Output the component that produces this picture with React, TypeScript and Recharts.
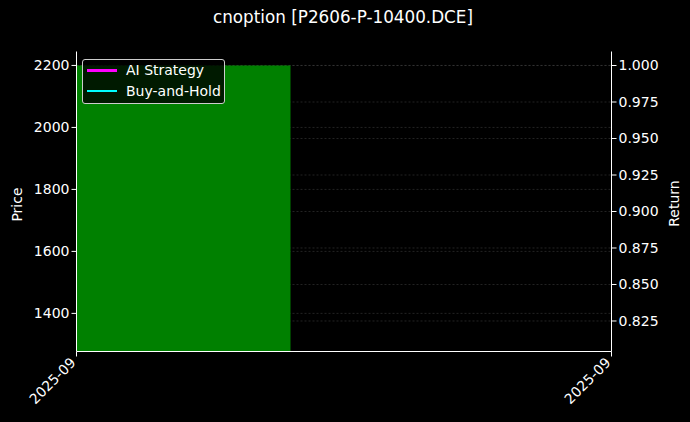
import { ComposedChart, Line, XAxis, YAxis, CartesianGrid, ReferenceArea } from "recharts";

const TITLE = "cnoption [P2606-P-10400.DCE]";
const xTickValues = [0, 1];
const xTickLabels = ["2025-09", "2025-09"];
const priceTicks = [1400, 1600, 1800, 2000, 2200];
const returnTicks = [0.825, 0.85, 0.875, 0.9, 0.925, 0.95, 0.975, 1.0];
const priceDomain = [1277, 2245];
const returnDomain = [0.8041, 1.0096];

// single bar: starts at t=0, spans 0.4 of the window, price 2200 down past the axis floor
const barStart = [0];
const barEnd = [0.4];
const barHigh = [2200];
const barLow = [1200];

const tIndex = [0];
const aiReturn = [1.0];
const bhReturn = [1.0];

const seriesNames = ["AI Strategy", "Buy-and-Hold"];
const seriesColors = ["#ff00ff", "#00ffff"];

const data = tIndex.map((t, i) => ({ t, ai: aiReturn[i], bh: bhReturn[i] }));

const FONT = "DejaVu Sans, sans-serif";
const WHITE = "#ffffff";
const FS = 14;

function XTick(props: any) {
  const { x, y, payload } = props;
  const idx = xTickValues.indexOf(payload.value);
  return (
    <g transform={`translate(${x - 7},${y - 2}) rotate(-45)`}>
      <text x={0} y={0} dy="0.71em" textAnchor="end" fill={WHITE} fontSize={FS} fontFamily={FONT}>
        {xTickLabels[idx]}
      </text>
    </g>
  );
}

function LegendBox() {
  return (
    <div style={{
      position: "absolute", left: 82, top: 59, boxSizing: "border-box",
      background: "rgba(0,0,0,0.8)", border: "1px solid #cccccc", borderRadius: 3,
      width: 143, height: 45, padding: "0", fontFamily: FONT, fontSize: FS, color: WHITE,
    }}>
      {seriesNames.map((name, i) => (
        <div key={name} style={{ display: "flex", alignItems: "center", height: 20.5 }}>
          <div style={{ width: 30, height: 2.5, background: seriesColors[i], marginLeft: 4, marginRight: 9 }} />
          <span>{name}</span>
        </div>
      ))}
    </div>
  );
}

const noDot = (p: any) => <g key={`d-${p.index}`} />;
const spine = { stroke: WHITE, strokeWidth: 1 };

export default function App() {
  return (
    <div style={{ position: "fixed", left: 0, top: 0, width: 690, height: 422, background: "#000000" }}>
      <div style={{
        position: "absolute", left: 0, top: 7, width: 686, textAlign: "center",
        color: WHITE, fontFamily: FONT, fontSize: 16.8,
      }}>{TITLE}</div>
      <ComposedChart width={690} height={422} data={data}
        margin={{ top: 51.5, right: 0, bottom: 0, left: 0.5 }}>
        <CartesianGrid yAxisId="price" xAxisId="bottom" vertical={false} horizontalValues={priceTicks}
          stroke="#3a3a3a" strokeDasharray="2 2" strokeWidth={0.6} />
        <CartesianGrid yAxisId="ret" xAxisId="bottom" vertical={false} horizontalValues={returnTicks}
          stroke="#3a3a3a" strokeDasharray="2 2" strokeWidth={0.6} />
        <XAxis xAxisId="bottom" dataKey="t" type="number" domain={[0, 1]} ticks={xTickValues}
          height={70.5} interval={0} tick={<XTick />} axisLine={spine}
          tickLine={spine} tickSize={5} />
        <XAxis xAxisId="top" orientation="top" type="number" domain={[0, 1]} height={0}
          tick={false} tickLine={false} axisLine={spine} />
        <YAxis yAxisId="price" orientation="left" width={76} domain={priceDomain} ticks={priceTicks}
          allowDataOverflow axisLine={spine} tickLine={spine} tickSize={5}
          tick={{ fill: WHITE, fontSize: FS, fontFamily: FONT }}
          label={{
            content: (p: any) => {
              const vb = p.viewBox;
              const cx = vb.x + 16;
              const cy = vb.y + vb.height / 2 + 3;
              return (
                <text x={cx} y={cy} transform={`rotate(-90,${cx},${cy})`} textAnchor="middle"
                  dominantBaseline="central" fill={WHITE} fontSize={FS} fontFamily={FONT}>Price</text>
              );
            },
          }} />
        <YAxis yAxisId="ret" orientation="right" width={78.5} domain={returnDomain} ticks={returnTicks}
          allowDataOverflow axisLine={spine} tickLine={spine} tickSize={5}
          tickFormatter={(v: number) => v.toFixed(3)}
          tick={{ fill: WHITE, fontSize: FS, fontFamily: FONT }}
          label={{
            content: (p: any) => {
              const vb = p.viewBox;
              const cx = vb.x + 62;
              const cy = vb.y + vb.height / 2 + 2;
              return (
                <text x={cx} y={cy} transform={`rotate(-90,${cx},${cy})`} textAnchor="middle"
                  dominantBaseline="central" fill={WHITE} fontSize={FS} fontFamily={FONT}>Return</text>
              );
            },
          }} />
        {barStart.map((s, i) => (
          <ReferenceArea key={i} xAxisId="bottom" yAxisId="price" x1={s} x2={barEnd[i]}
            y1={barLow[i]} y2={barHigh[i]} fill="#008000" fillOpacity={1} stroke="none" ifOverflow="hidden" />
        ))}
        <Line xAxisId="bottom" yAxisId="ret" dataKey="ai" name={seriesNames[0]} stroke={seriesColors[0]}
          strokeWidth={2} dot={noDot} activeDot={false} isAnimationActive={false} />
        <Line xAxisId="bottom" yAxisId="ret" dataKey="bh" name={seriesNames[1]} stroke={seriesColors[1]}
          strokeWidth={2} dot={noDot} activeDot={false} isAnimationActive={false} />
      </ComposedChart>
      <LegendBox />
    </div>
  );
}
